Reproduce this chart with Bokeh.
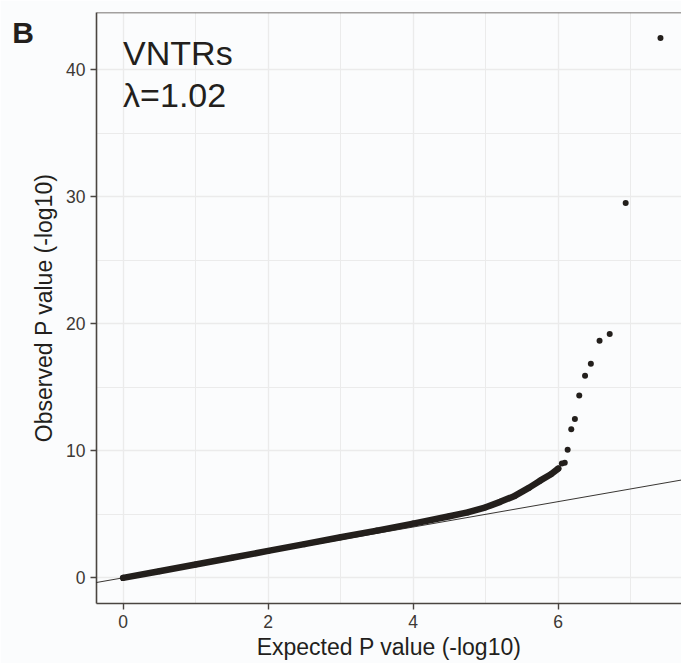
from bokeh.plotting import figure
from bokeh.models import Range1d, FixedTicker, Label, Slope, Span
from bokeh.embed import file_html
from bokeh.resources import INLINE

# ---- data ----
# Bulk of the QQ cloud: expected vs observed -log10(P)
bulk_expected = [0.0, 0.5, 1.0, 1.5, 2.0, 2.5, 3.0, 3.5, 4.0, 4.5, 4.75, 5.0, 5.2, 5.4, 5.6, 5.75, 5.9, 6.0]
bulk_observed = [0.0, 0.52, 1.05, 1.58, 2.12, 2.65, 3.2, 3.72, 4.27, 4.85, 5.15, 5.55, 5.98, 6.45, 7.1, 7.65, 8.15, 8.6]
# Individually visible top hits
tail_expected = [7.41, 6.93, 6.71, 6.57, 6.45, 6.37, 6.29, 6.23, 6.18, 6.13, 6.09, 6.05]
tail_observed = [42.5, 29.5, 19.2, 18.66, 16.85, 15.9, 14.36, 12.5, 11.7, 10.08, 9.06, 9.0]

x_ticks = [0, 2, 4, 6]
x_minor = [1, 3, 5, 7]
y_ticks = [0, 10, 20, 30, 40]
y_minor = [5, 15, 25, 35]
x_lo, x_hi = -0.367, 7.70
y_lo, y_hi = -2.02, 44.5

panel_tag = "B"
series_name = "VNTRs"
lambda_text = "λ=1.02"
x_title = "Expected P value (-log10)"
y_title = "Observed P value (-log10)"

ink = "#231f1c"
bg = "#fbfcfd"
FONT = "Liberation Sans"

p = figure(width=681, height=663, output_backend="svg", toolbar_location=None,
           x_range=Range1d(x_lo, x_hi), y_range=Range1d(y_lo, y_hi))
p.min_border = 0
p.min_border_left = 96
p.min_border_top = 12
p.min_border_right = 0
p.min_border_bottom = 60
p.background_fill_color = bg
p.border_fill_color = bg
p.outline_line_color = None

for ax, ticks, minor in ((p.xaxis[0], x_ticks, x_minor), (p.yaxis[0], y_ticks, y_minor)):
    ax.ticker = FixedTicker(ticks=ticks, minor_ticks=minor)
    ax.axis_line_color = "#4a4541"
    ax.axis_line_width = 1.6
    ax.major_tick_line_color = "#4a4541"
    ax.major_tick_line_width = 1.4
    ax.major_tick_out = 6
    ax.major_tick_in = 0
    ax.minor_tick_out = 0
    ax.minor_tick_in = 0
    ax.major_label_text_font = FONT
    ax.major_label_text_font_size = "17.5px"
    ax.major_label_text_color = "#3d3935"
    ax.major_label_standoff = 5
    ax.axis_label_text_font = FONT
    ax.axis_label_text_font_size = "23px"
    ax.axis_label_text_font_style = "normal"
    ax.axis_label_text_color = ink

p.xaxis.axis_label = x_title
p.yaxis.axis_label = y_title
p.xaxis.axis_label_standoff = 3
p.yaxis.axis_label_standoff = 6

for g in (p.xgrid[0], p.ygrid[0]):
    g.grid_line_color = "#ebebeb"
    g.grid_line_width = 1.3
    g.minor_grid_line_color = "#ebebeb"
    g.minor_grid_line_width = 1.0

# top panel border
p.add_layout(Span(location=y_hi, dimension="width", line_color="#4a4541", line_width=1.6))

# identity reference line
p.add_layout(Slope(gradient=1, y_intercept=0, line_color=ink, line_width=0.9))

# dense bulk of points
p.line(bulk_expected, bulk_observed, line_color=ink, line_width=6.5,
       line_cap="round", line_join="round")
p.scatter(bulk_expected, bulk_observed, size=6, fill_color=ink, line_color=None)
# top hits
p.scatter(tail_expected, tail_observed, size=6, fill_color=ink, line_color=None)

# annotation text
p.add_layout(Label(x=0, y=41.3, text=series_name, text_font=FONT,
                   text_font_size="34px", text_color=ink, text_baseline="alphabetic"))
p.add_layout(Label(x=0, y=38.0, text=lambda_text, text_font=FONT,
                   text_font_size="34px", text_color=ink, text_baseline="alphabetic"))
# panel tag, placed in the left side panel so it is not clipped to the frame
p.add_layout(Label(x=-1.53, y=42.93, text=panel_tag,
                   text_font=FONT, text_font_size="30px", text_font_style="bold",
                   text_color=ink, text_baseline="alphabetic"), "left")

open("out.html", "w").write(file_html(p, INLINE))
